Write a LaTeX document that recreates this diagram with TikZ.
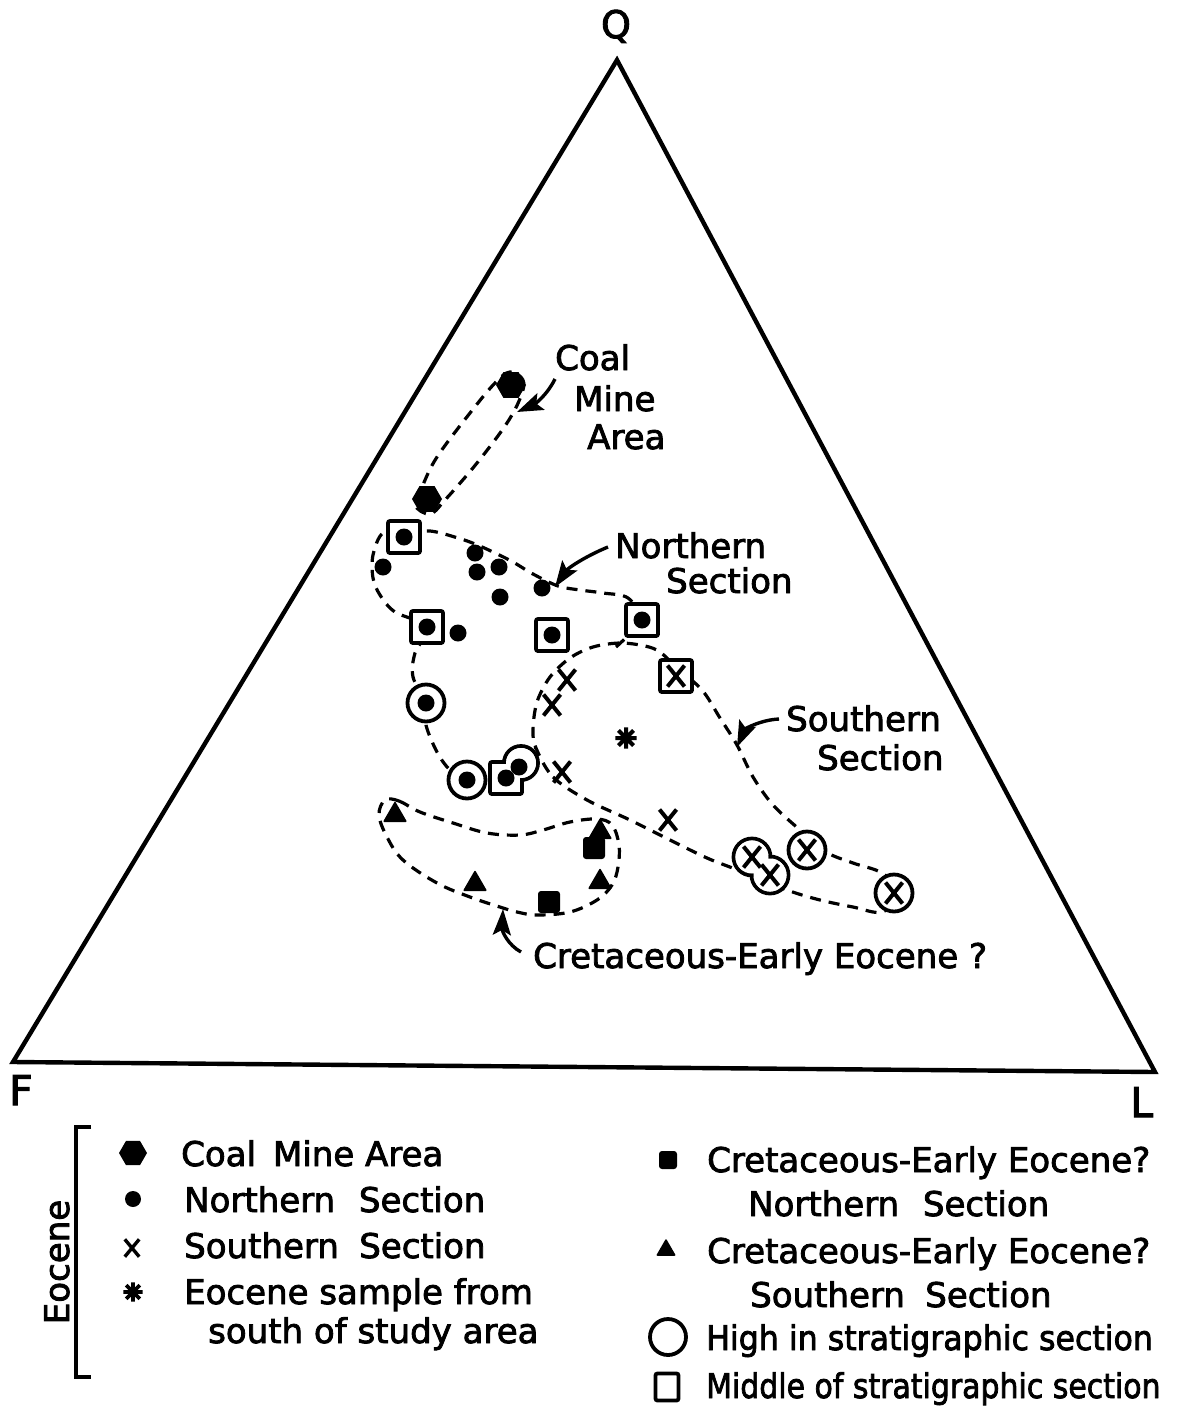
\documentclass[tikz,border=0pt]{standalone}
\usepackage{fontspec}
\usepackage{graphicx}
\setmainfont{DejaVu Sans}[FakeBold=2.4]
\newfontfamily\lett{DejaVu Sans}[FakeBold=2.4]
\usetikzlibrary{shapes.geometric,shapes.misc,arrows.meta}
\begin{document}
\begin{tikzpicture}[x=1pt,y=-1pt,
 lab/.style={font=\lett\fontsize{34}{40}\selectfont, inner sep=0pt, anchor=base west},
 dotn/.style={circle, fill=black, minimum size=17pt, inner sep=0pt},
 hexn/.style={regular polygon, regular polygon sides=6, fill=black, minimum size=30pt, inner sep=0pt},
 trin/.style={regular polygon, regular polygon sides=3, fill=black, draw=black, line width=1.5pt, line join=round, minimum size=25pt, inner sep=0pt},
 sqf/.style={rectangle, fill=black, minimum size=22pt, inner sep=0pt, rounded corners=3pt},
 xn/.style={cross out, draw=black, line width=4pt, minimum width=13pt, minimum height=17pt, inner sep=0pt},
 ringo/.style={circle, draw=black, line width=3.8pt, minimum size=37pt, inner sep=0pt},
 ringw/.style={circle, fill=white, minimum size=33pt, inner sep=0pt},
 boxo/.style={rectangle, draw=black, line width=3.8pt, minimum size=32pt, inner sep=0pt, rounded corners=2pt},
 boxw/.style={rectangle, fill=white, minimum size=28pt, inner sep=0pt},
 env/.style={line width=3.2pt, dash pattern=on 11pt off 8pt},
 ptr/.style={line width=3.4pt, -{Stealth[length=26pt,width=18pt,inset=5pt]}},
 astn/.style={circle, minimum size=21pt, inner sep=0pt},
 spoke/.style={line width=4pt},
 frame/.style={line width=4.4pt, line join=miter},
]
\useasboundingbox (0,0) rectangle (1178,1408);

% ---------- ternary frame ----------
\coordinate (Q) at (617,60);
\coordinate (F) at (13,1062);
\coordinate (L) at (1155,1072);
\draw[frame] (Q) -- (L) -- (F) -- cycle;
\node[font=\lett\fontsize{38}{40}\selectfont, inner sep=0pt, anchor=base] (lQ) at (616,38) {Q};
\node[font=\lett\fontsize{41}{44}\selectfont, inner sep=0pt, anchor=base west] (lF) at (9,1105) {F};
\node[font=\lett\fontsize{41}{44}\selectfont, inner sep=0pt, anchor=base west] (lL) at (1130,1117) {L};

% ---------- envelopes ----------
% Coal mine area
\draw[env] plot[smooth cycle, tension=0.6] coordinates {
 (510,372) (523,380) (521,396) (507,423) (477,463) (445,500) (430,514)
 (415,505) (422,487) (437,457) (470,413) (495,383)};
% Northern section (joins the southern loop)
\draw[env] plot[smooth, tension=0.55] coordinates {
 (616,647) (640,620) (628,598) (603,593) (580,590) (558,586) (533,574) (513,562)
 (493,552) (475,544) (458,538) (430,531) (405,534) (383,533) (373,555) (373,578)
 (380,595) (395,612) (427,627) (415,653) (413,677) (426,703) (426,725)
 (437,752) (450,770) (467,780) (506,778) (521,762) (536,748)};
% Southern section
\draw[env] plot[smooth cycle, tension=0.55] coordinates {
 (536,748) (553,777) (587,800) (630,820) (670,840) (707,858) (735,869) (787,890)
 (820,900) (853,907) (882,912) (900,893) (882,873) (853,863) (826,852) (800,830)
 (773,805) (753,777) (737,745) (720,718) (702,690) (677,668) (660,652) (645,646)
 (620,643) (593,647) (570,658) (550,677) (537,702) (533,730)};
% Cretaceous - Early Eocene
\draw[env] plot[smooth cycle, tension=0.6] coordinates {
 (385,800) (399,801) (420,812) (453,823) (487,833) (520,835) (543,830) (570,822)
 (597,819) (612,825) (619,845) (618,867) (612,885) (597,900) (570,912) (537,915)
 (517,912) (503,908) (470,897) (437,883) (403,860) (387,837) (379,815)};

% ---------- labels and pointers ----------
\node[lab] (tCoal) at (555,370) {Coal};
\node[lab] (tMine) at (574,411) {Mine};
\node[lab] (tArea) at (587,449) {Area};
\coordinate (aCs) at (555,379);
\coordinate (aCe) at (517,412);
\draw[ptr] (aCs) .. controls (546,397) and (533,405) .. (aCe);

\node[lab] (tNorth) at (615,558) {Northern};
\node[lab] (tNsec) at (666,593) {Section};
\coordinate (aNs) at (608,547);
\coordinate (aNe) at (555,587);
\draw[ptr] (aNs) .. controls (586,556) and (568,568) .. (aNe);

\node[lab] (tSouth) at (786,731) {Southern};
\node[lab] (tSsec) at (817,770) {Section};
\coordinate (aSs) at (779,719);
\coordinate (aSe) at (737,747);
\draw[ptr] (aSs) .. controls (760,720) and (745,729) .. (aSe);

\node[lab] (tCret) at (533,968) {Cretaceous-Early Eocene ?};
\coordinate (aKs) at (521,952);
\coordinate (aKe) at (503,909);
\draw[ptr] (aKs) .. controls (508,945) and (502,931) .. (aKe);

% ---------- data points ----------
% coal mine area
\node[hexn] (c1) at (511,385) {};
\node[hexn] (c2) at (427,499) {};

% northern section, plain
\foreach \p [count=\i] in {(383,567),(475,553),(477,572),(499,567),(500,597),(542,588),(458,633)}
  \node[dotn] (nd\i) at \p {};
% northern section, middle of section
\foreach \p [count=\i] in {(404,537),(427,627),(552,635),(642,620)}{
  \node[boxo, fill=white] (ns\i) at \p {};
  \node[dotn] (nsd\i) at (ns\i) {};
}
% northern section, high in section
\node[ringo, fill=white] (nc1) at (426,703) {};
\node[dotn] (ncd1) at (nc1) {};
\node[ringo, fill=white] (nc2) at (467,780) {};
\node[dotn] (ncd2) at (nc2) {};
% overlapping pair (square + circle)
\node[boxo] (np1) at (506,778) {};
\node[ringo, minimum size=34pt] (np2) at (521,763) {};
\node[boxw] (np1w) at (np1) {};
\node[ringw, minimum size=30pt] (np2w) at (np2) {};
\node[dotn] (npd1) at (506,778) {};
\node[dotn] (npd2) at (519,767) {};

% southern section, plain
\foreach \p [count=\i] in {(567,680),(552,705),(562,772),(668,820)}
  \node[xn] (sx\i) at \p {};
% southern section, middle of section
\node[boxo, fill=white] (ss1) at (676,676) {};
\node[xn] (ssx1) at (ss1) {};
% southern section, high in section
\node[ringo, fill=white] (sc1) at (807,850) {};
\node[xn] (scx1) at (sc1) {};
\node[ringo, fill=white] (sc2) at (894,893) {};
\node[xn] (scx2) at (sc2) {};
\node[ringo] (sc3) at (752,857) {};
\node[ringo] (sc4) at (770,875) {};
\node[ringw] (sc3w) at (sc3) {};
\node[ringw] (sc4w) at (sc4) {};
\node[xn] (scx3) at (sc3) {};
\node[xn] (scx4) at (sc4) {};

% Eocene sample from south of study area
\node[astn] (as1) at (626,738) {};
\draw[spoke] (as1.north) -- (as1.south) (as1.east) -- (as1.west)
  (as1.north east) -- (as1.south west) (as1.north west) -- (as1.south east);

% Cretaceous - Early Eocene?
\node[trin] (k1) at (395,815) {};
\node[trin] (k2) at (475,884) {};
\node[trin] (k3) at (600,882) {};
\node[trin] (k4) at (600,832) {};
\node[sqf] (k5) at (594,848) {};
\node[sqf] (k6) at (549,902) {};

% ---------- legend ----------
\draw[line width=3.4pt] (91,1127) -- (76,1127) -- (76,1377) -- (91,1377);
\node[font=\lett\fontsize{34}{40}\selectfont, rotate=90, anchor=base, inner sep=0pt] (eoc) at (69,1262) {Eocene};

\node[hexn, minimum size=28pt] (lg1) at (133,1153) {};
\node[lab] (lt1) at (181,1166) {Coal\hspace{0.5em}Mine Area};
\node[dotn, minimum size=16pt] (lg2) at (133,1199) {};
\node[lab] (lt2) at (184,1212) {Northern\hspace{0.7em}Section};
\node[xn, minimum width=11pt, minimum height=14pt, line width=3.4pt] (lg3) at (132,1248) {};
\node[lab] (lt3) at (184,1258) {Southern\hspace{0.6em}Section};
\node[astn, minimum size=19pt] (lg4) at (133,1292) {};
\draw[spoke, line width=3.6pt] (lg4.north) -- (lg4.south) (lg4.east) -- (lg4.west)
  (lg4.north east) -- (lg4.south west) (lg4.north west) -- (lg4.south east);
\node[lab] (lt4) at (184,1304) {Eocene sample from};
\node[lab] (lt5) at (208,1343) {south of study area};

\node[sqf, minimum size=18pt] (lg5) at (668,1160) {};
\node[lab] (lt6) at (707,1172) {Cretaceous-Early Eocene?};
\node[lab] (lt7) at (748,1216) {Northern\hspace{0.7em}Section};
\node[trin, minimum size=20pt] (lg6) at (666,1250) {};
\node[lab] (lt8) at (707,1263) {Cretaceous-Early Eocene?};
\node[lab] (lt9) at (750,1307) {Southern\hspace{0.6em}Section};
\node[ringo, minimum size=36pt] (lg7) at (668,1337) {};
\node[lab] (lt10) at (706,1350) {\scalebox{0.93}[1]{High in stratigraphic section}};
\node[boxo, minimum width=23pt, minimum height=27pt] (lg8) at (667,1387) {};
\node[lab] (lt11) at (706,1398) {\scalebox{0.88}[1]{Middle of stratigraphic section}};
\end{tikzpicture}
\end{document}
